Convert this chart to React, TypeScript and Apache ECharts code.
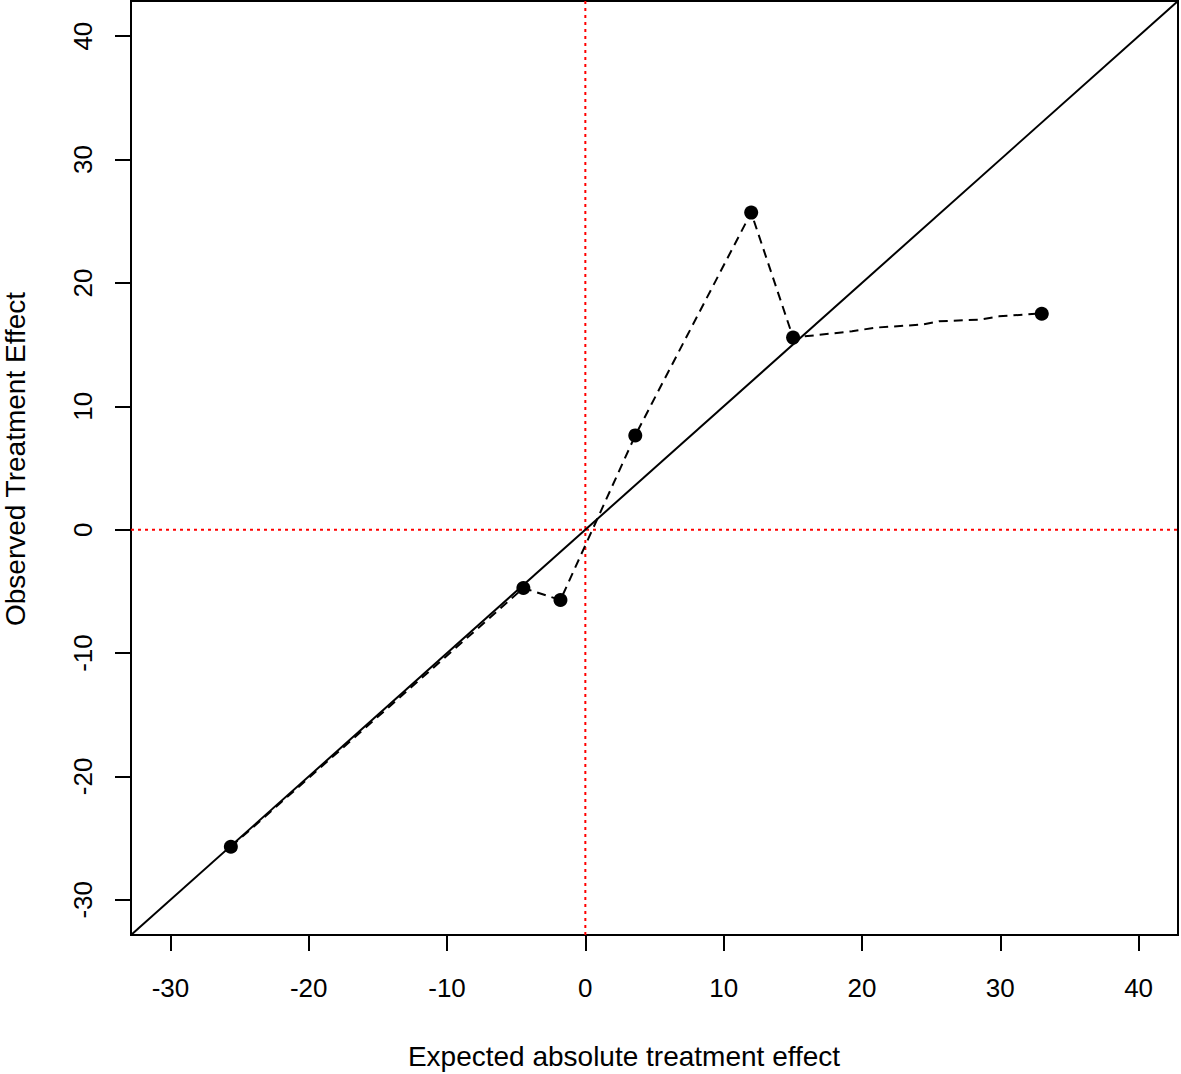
import React, { useEffect, useRef } from "react";
import * as echarts from "echarts";

const AXIS_MIN = -32.85;
const AXIS_MAX = 42.85;
const tickValues = [-30, -20, -10, 0, 10, 20, 30, 40];

// observed points (expected, observed)
const pointX = [-25.63, -4.48, -1.8, 3.61, 11.99, 15.02, 33.0];
const pointY = [-25.7, -4.73, -5.7, 7.64, 25.7, 15.57, 17.5];

// dashed calibration curve vertices
const curveX = [-25.63, -4.48, -1.8, 3.61, 4.77, 11.99, 15.02, 19.28, 21.0, 24.33, 25.56, 28.45, 29.9, 32.56, 33.0];
const curveY = [-25.7, -4.73, -5.7, 7.64, 10.15, 25.7, 15.57, 16.08, 16.38, 16.62, 16.89, 17.02, 17.29, 17.5, 17.5];

const FONT = "'Liberation Sans', Arial, Helvetica, sans-serif";

export default function App() {
  const ref = useRef<HTMLDivElement>(null);
  useEffect(() => {
    document.body.style.margin = "0";
    if (!ref.current) return;
    const chart = echarts.init(ref.current, null, { renderer: "svg" });
    const pts = pointX.map((x, i) => [x, pointY[i]]);
    const curve = curveX.map((x, i) => [x, curveY[i]]);
    chart.setOption({
      animation: false,
      backgroundColor: "#ffffff",
      grid: {
        left: 131,
        top: 1,
        right: 3,
        bottom: 139,
        show: true,
        borderColor: "#000",
        borderWidth: 2,
        containLabel: false,
      },
      xAxis: {
        type: "value",
        min: AXIS_MIN,
        max: AXIS_MAX,
        splitLine: { show: false },
        axisLine: { show: false, onZero: false },
        axisTick: {
          show: true,
          inside: false,
          length: 16,
          customValues: tickValues,
          lineStyle: { color: "#000", width: 2 },
        },
        axisLabel: {
          customValues: tickValues,
          margin: 40,
          color: "#000",
          fontSize: 26,
          fontFamily: FONT,
        },
      },
      yAxis: {
        type: "value",
        min: AXIS_MIN,
        max: AXIS_MAX,
        splitLine: { show: false },
        axisLine: { show: false, onZero: false },
        axisTick: {
          show: true,
          inside: false,
          length: 16,
          customValues: tickValues,
          lineStyle: { color: "#000", width: 2 },
        },
        axisLabel: {
          customValues: tickValues,
          rotate: 90,
          margin: 35,
          color: "#000",
          fontSize: 26,
          fontFamily: FONT,
        },
      },
      graphic: [
        {
          type: "text",
          x: 624,
          y: 1056,
          style: {
            text: "Expected absolute treatment effect",
            fontSize: 28,
            fontFamily: FONT,
            fill: "#000",
            textAlign: "center",
            textVerticalAlign: "middle",
          },
        },
        {
          type: "text",
          x: 15,
          y: 459,
          rotation: Math.PI / 2,
          style: {
            text: "Observed Treatment Effect",
            fontSize: 28,
            fontFamily: FONT,
            fill: "#000",
            textAlign: "center",
            textVerticalAlign: "middle",
          },
        },
      ],
      series: [
        {
          type: "line",
          data: [
            [0, AXIS_MIN],
            [0, AXIS_MAX],
          ],
          symbol: "none",
          lineStyle: { color: "#ff0000", width: 2, type: [3, 4] },
          z: 1,
        },
        {
          type: "line",
          data: [
            [AXIS_MIN, 0],
            [AXIS_MAX, 0],
          ],
          symbol: "none",
          lineStyle: { color: "#ff0000", width: 2, type: [3, 4] },
          z: 1,
        },
        {
          type: "line",
          data: [
            [AXIS_MIN, AXIS_MIN],
            [AXIS_MAX, AXIS_MAX],
          ],
          symbol: "none",
          lineStyle: { color: "#000", width: 2, type: "solid" },
          z: 2,
        },
        {
          type: "line",
          data: curve,
          symbol: "none",
          lineStyle: { color: "#000", width: 2, type: [9, 6] },
          z: 3,
        },
        {
          type: "scatter",
          data: pts,
          symbol: "circle",
          symbolSize: 14,
          itemStyle: { color: "#000", opacity: 1 },
          z: 4,
        },
      ],
    });
    return () => chart.dispose();
  }, []);
  return <div ref={ref} style={{ width: 1181, height: 1074 }} />;
}
